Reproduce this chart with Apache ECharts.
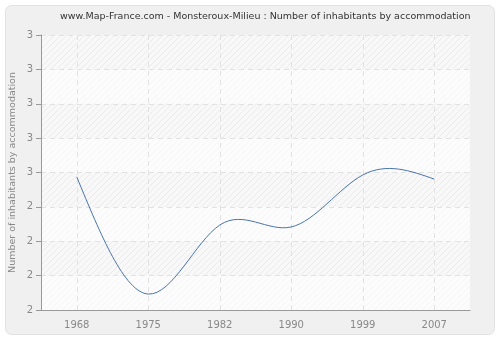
<!DOCTYPE html>
<html>
<head>
<meta charset="utf-8">
<script src="https://cdn.jsdelivr.net/npm/echarts@6/dist/echarts.min.js"></script>
<style>
html,body{margin:0;padding:0;background:#fff;}
#c{width:500px;height:340px;}
</style>
</head>
<body>
<div id="c"></div>
<script>
var years = ['1968', '1975', '1982', '1990', '1999', '2007'];
var values = [2.484, 2.058, 2.309, 2.302, 2.491, 2.476];
var yMin = 2, yMax = 3, yStep = 0.125;

var pat = document.createElement('canvas');
pat.width = 6; pat.height = 6;
var pc = pat.getContext('2d');
pc.fillStyle = '#f8f8f8';
pc.fillRect(0, 0, 6, 6);
pc.strokeStyle = '#ebebeb';
pc.lineWidth = 1;
pc.beginPath();
pc.moveTo(0, 6); pc.lineTo(6, 0);
pc.moveTo(-1, 1); pc.lineTo(1, -1);
pc.moveTo(5, 7); pc.lineTo(7, 5);
pc.stroke();

// natural cubic spline through pixel points, returned as SVG path data
function splinePath(pts) {
  var n = pts.length;
  if (n < 2) return '';
  var M = new Array(n).fill(0);
  if (n > 2) {
    var a = [], b = [], c = [], d = [];
    for (var i = 1; i < n - 1; i++) {
      var h0 = pts[i][0] - pts[i - 1][0], h1 = pts[i + 1][0] - pts[i][0];
      a.push(h0); b.push(2 * (h0 + h1)); c.push(h1);
      d.push(6 * ((pts[i + 1][1] - pts[i][1]) / h1 - (pts[i][1] - pts[i - 1][1]) / h0));
    }
    var m = b.length;
    for (var k = 1; k < m; k++) {
      var w = a[k] / b[k - 1];
      b[k] -= w * c[k - 1];
      d[k] -= w * d[k - 1];
    }
    var sol = new Array(m);
    sol[m - 1] = d[m - 1] / b[m - 1];
    for (var k2 = m - 2; k2 >= 0; k2--) sol[k2] = (d[k2] - c[k2] * sol[k2 + 1]) / b[k2];
    for (var j = 0; j < m; j++) M[j + 1] = sol[j];
  }
  var s = 'M' + pts[0][0] + ' ' + pts[0][1];
  for (var i2 = 0; i2 < n - 1; i2++) {
    var x0 = pts[i2][0], y0 = pts[i2][1], x1 = pts[i2 + 1][0], y1 = pts[i2 + 1][1];
    var h = x1 - x0;
    var m0 = (y1 - y0) / h - h * (2 * M[i2] + M[i2 + 1]) / 6;
    var m1 = (y1 - y0) / h + h * (M[i2] + 2 * M[i2 + 1]) / 6;
    s += ' C' + (x0 + h / 3) + ' ' + (y0 + m0 * h / 3) + ' ' +
         (x1 - h / 3) + ' ' + (y1 - m1 * h / 3) + ' ' + x1 + ' ' + y1;
  }
  return s;
}

var chart = echarts.init(document.getElementById('c'), null, {renderer: 'canvas'});
chart.setOption({
  animation: false,
  backgroundColor: '#ffffff',
  graphic: [
    {type: 'rect', z: -10, silent: true,
     shape: {x: 5.5, y: 5.5, width: 489, height: 329, r: 6},
     style: {fill: '#f0f0f0', stroke: '#e2e2e2', lineWidth: 1}},
    {type: 'text', left: 60, top: 12,
     style: {text: 'www.Map-France.com - Monsteroux-Milieu : Number of inhabitants by accommodation',
             font: '9.5px "DejaVu Sans", Verdana, sans-serif', fill: '#333333'}}
  ],
  grid: {left: 41, right: 30, top: 35, bottom: 30, show: true, outerBoundsMode: 'none',
         containLabel: false,
         backgroundColor: {image: pat, repeat: 'repeat'}, borderWidth: 0},
  xAxis: {
    type: 'category', data: years, boundaryGap: true,
    axisLine: {lineStyle: {color: '#999999', width: 1}},
    axisTick: {alignWithLabel: true, length: 5, lineStyle: {color: '#999999'}},
    axisLabel: {color: '#888888', fontSize: 10, fontFamily: 'DejaVu Sans', margin: 10},
    splitLine: {show: true, alignWithLabel: true, lineStyle: {color: '#e2e2e2', type: [5, 4], width: 1}}
  },
  yAxis: {
    type: 'value', min: yMin, max: yMax, interval: yStep,
    name: 'Number of inhabitants by accommodation', nameLocation: 'middle', nameGap: 23,
    nameMoveOverlap: false,
    nameTextStyle: {color: '#888888', fontSize: 9.5, fontFamily: 'DejaVu Sans'},
    axisLine: {show: true, lineStyle: {color: '#999999', width: 1}},
    axisTick: {show: true, length: 5, lineStyle: {color: '#999999'}},
    axisLabel: {color: '#888888', fontSize: 10, fontFamily: 'DejaVu Sans', margin: 8,
                formatter: function (v) { return String(Math.round(v)); }},
    splitArea: {show: true, areaStyle: {color: ['rgba(255,255,255,0.55)', 'rgba(255,255,255,0)']}},
    splitLine: {show: true, lineStyle: {color: '#e2e2e2', type: [5, 4], width: 1}}
  },
  series: [{
    type: 'custom',
    data: values.map(function (v, i) { return [i, v]; }),
    encode: {x: 0, y: 1},
    renderItem: function (params, api) {
      if (params.dataIndex !== 0) return null;
      var pts = values.map(function (v, i) { return api.coord([i, v]); });
      return {
        type: 'path',
        shape: {pathData: splinePath(pts)},
        style: {fill: 'none', stroke: '#4a74a8', lineWidth: 1}
      };
    }
  }]
});
</script>
</body>
</html>
